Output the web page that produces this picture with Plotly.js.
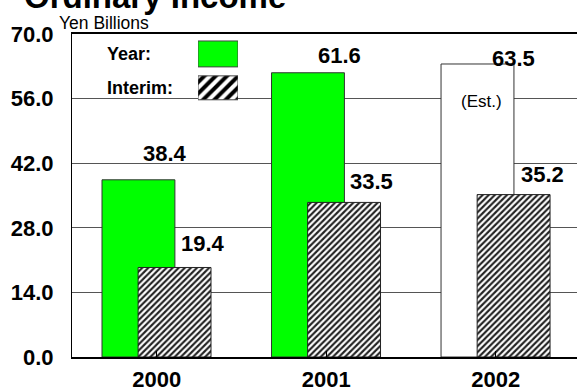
<!DOCTYPE html>
<html>
<head>
<meta charset="utf-8">
<script src="https://cdn.plot.ly/plotly-3.0.1.min.js"></script>
<style>
  html, body { margin: 0; padding: 0; background: #fff; }
  #chart { width: 577px; height: 392px; }
</style>
</head>
<body>
<div id="chart"></div>
<script>
// ---- data ----
const categories = ["2000", "2001", "2002"];
const yearValues = [38.4, 61.6, 63.5];
const interimValues = [19.4, 33.5, 35.2];
const yearLabels = ["38.4", "61.6", "63.5"];
const interimLabels = ["19.4", "33.5", "35.2"];
const estimateFlags = [false, false, true];
const yTicks = [0, 14, 28, 42, 56, 70];
const legendNames = ["Year:", "Interim:"];
const titleText = "Ordinary Income";
const unitText = "Yen Billions";
const estText = "(Est.)";

// ---- styling / layout (not data) ----
const FONT = "Liberation Sans, Arial, Helvetica, sans-serif";
const GREEN = "#00ff00";
const hatchBars = { shape: "/", size: 4.3, solidity: 0.5, fgcolor: "#222", bgcolor: "#fff" };
const hatchLegend = { shape: "/", size: 8, solidity: 0.5, fgcolor: "#000", bgcolor: "#fff" };
// pixel nudges of the value labels relative to their category centre / bar top
const yearNudge = [[8, 26], [13, 17], [18, 5]];
const interimNudge = [[46, 24], [45, 21], [47, 20]];

const xIdx = categories.map((c, i) => i);

const traces = [
  {
    type: "bar", x: xIdx, y: yearValues, name: legendNames[0],
    offset: -0.323, width: 0.43,
    marker: { color: estimateFlags.map(f => f ? "#ffffff" : GREEN), line: { color: "#333", width: 1 } },
    hoverinfo: "skip", showlegend: false
  },
  {
    type: "bar", x: xIdx, y: interimValues, name: legendNames[1],
    offset: -0.11, width: 0.43,
    marker: { color: "#fff", pattern: hatchBars, line: { color: "#222", width: 1 } },
    hoverinfo: "skip", showlegend: false
  },
  // in-plot legend swatches
  {
    type: "bar", orientation: "h", xaxis: "x2", yaxis: "y2",
    y: [0], x: [1], width: 0.765,
    marker: { color: GREEN, line: { color: "#444", width: 1 } },
    hoverinfo: "skip", showlegend: false
  },
  {
    type: "bar", orientation: "h", xaxis: "x2", yaxis: "y2",
    y: [1], x: [1], width: 0.706,
    marker: { color: "#fff", pattern: hatchLegend, line: { color: "#444", width: 1 } },
    hoverinfo: "skip", showlegend: false
  }
];

const annotations = [];
yearValues.forEach((v, i) => {
  annotations.push({
    x: i, y: v, xref: "x", yref: "y", text: "<b>" + yearLabels[i] + "</b>",
    showarrow: false, xanchor: "center", yanchor: "middle",
    xshift: yearNudge[i][0], yshift: yearNudge[i][1],
    font: { family: FONT, size: 22, color: "#000" }
  });
});
interimValues.forEach((v, i) => {
  annotations.push({
    x: i, y: v, xref: "x", yref: "y", text: "<b>" + interimLabels[i] + "</b>",
    showarrow: false, xanchor: "center", yanchor: "middle",
    xshift: interimNudge[i][0], yshift: interimNudge[i][1],
    font: { family: FONT, size: 22, color: "#000" }
  });
});
estimateFlags.forEach((f, i) => {
  if (f) annotations.push({
    x: i, y: yearValues[i], xref: "x", yref: "y", text: estText,
    showarrow: false, xanchor: "center", yanchor: "middle",
    xshift: -14, yshift: -38,
    font: { family: FONT, size: 17, color: "#000" }
  });
});
// legend labels
legendNames.forEach((n, i) => {
  annotations.push({
    x: 0, y: i, xref: "x2 domain", yref: "y2", text: "<b>" + n + "</b>",
    showarrow: false, xanchor: "left", yanchor: "middle",
    xshift: -93, font: { family: FONT, size: 18, color: "#000" }
  });
});
// title (cut off at the top as in the reference)
annotations.push({
  x: 0, y: 1, xref: "paper", yref: "paper", text: "<b>" + titleText + "</b>",
  showarrow: false, xanchor: "left", yanchor: "middle",
  xshift: -50, yshift: 38,
  font: { family: FONT, size: 33, color: "#000" }
});
annotations.push({
  x: 0, y: 1, xref: "paper", yref: "paper", text: unitText,
  showarrow: false, xanchor: "left", yanchor: "middle",
  xshift: -15, yshift: 11,
  font: { family: FONT, size: 17.5, color: "#000" }
});

const layout = {
  width: 577, height: 392,
  margin: { l: 72, r: 0, t: 34, b: 35, pad: 0 },
  paper_bgcolor: "#fff", plot_bgcolor: "#fff",
  barmode: "overlay",
  showlegend: false,
  font: { family: FONT, color: "#000" },
  xaxis: {
    range: [-0.5, 2.479],
    tickmode: "array", tickvals: xIdx, ticktext: categories,
    tickson: "boundaries", ticks: "inside", ticklen: 6, tickcolor: "#000", tickwidth: 1,
    showgrid: false, zeroline: false,
    showline: true, linecolor: "#000", linewidth: 2, mirror: true,
    tickfont: { family: FONT, size: 22, color: "#000", weight: "bold" },
    ticklabelstandoff: 2,
    fixedrange: true
  },
  yaxis: {
    range: [0, 70],
    tickmode: "array", tickvals: yTicks, ticktext: yTicks.map(t => t.toFixed(1)),
    ticks: "", showgrid: true, gridcolor: "#555", gridwidth: 1.3,
    zeroline: false,
    showline: true, linecolor: "#000", linewidth: 1,
    tickfont: { family: FONT, size: 22, color: "#000", weight: "bold" },
    ticklabelstandoff: 13,
    fixedrange: true
  },
  xaxis2: {
    domain: [0.2495, 0.3287], range: [0, 1], anchor: "y2",
    visible: false, fixedrange: true
  },
  yaxis2: {
    domain: [0.7809, 0.9907], range: [1.5, -0.5], anchor: "x2",
    visible: false, fixedrange: true
  },
  annotations: annotations
};

Plotly.newPlot("chart", traces, layout, { staticPlot: true, displayModeBar: false });
</script>
</body>
</html>
